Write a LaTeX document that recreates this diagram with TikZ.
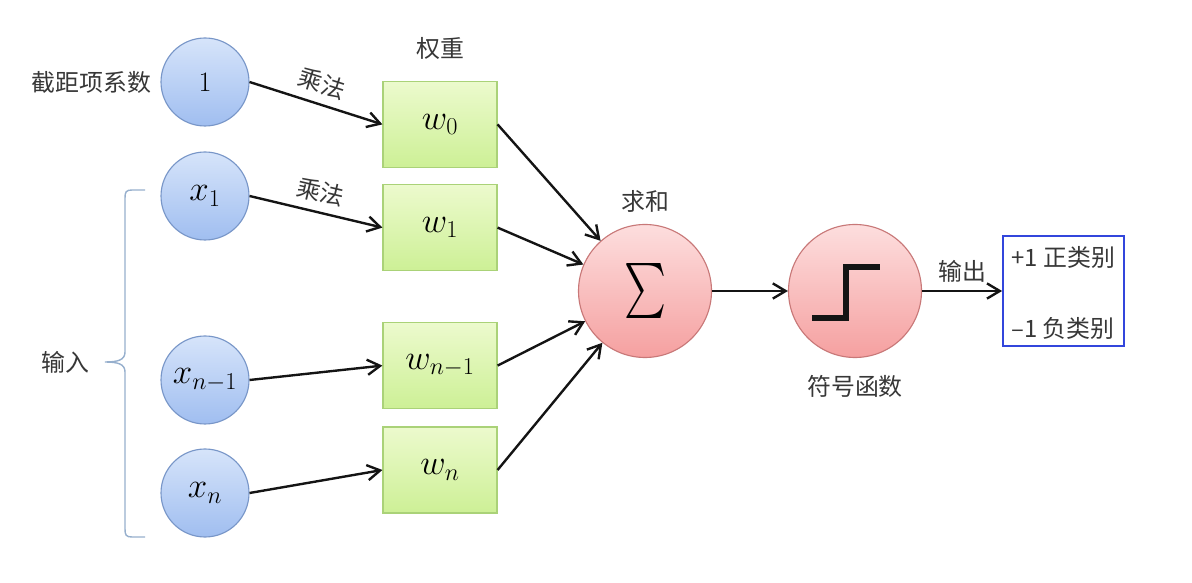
\documentclass[tikz,border=0pt]{standalone}
\usepackage{fontspec}
\usepackage{graphicx}
\usepackage{tikz}
\usetikzlibrary{arrows.meta, positioning}
\newfontfamily\cjk{Noto Sans CJK SC}
\definecolor{mydark}{RGB}{20,20,20}
\definecolor{mygraytext}{RGB}{55,55,55}
\definecolor{intop}{RGB}{214,228,250}
\definecolor{inbot}{RGB}{160,190,240}
\definecolor{inborder}{RGB}{120,150,200}
\definecolor{wtop}{RGB}{236,250,205}
\definecolor{wbot}{RGB}{205,240,150}
\definecolor{wborder}{RGB}{170,210,120}
\definecolor{utop}{RGB}{253,222,222}
\definecolor{ubot}{RGB}{245,160,160}
\definecolor{uborder}{RGB}{200,120,120}
\definecolor{bracecol}{RGB}{150,175,205}
\definecolor{boxblue}{RGB}{50,70,220}
\tikzset{
  inputnode/.style={circle, draw=inborder, top color=intop, bottom color=inbot,
    minimum size=2.2cm, inner sep=0pt, line width=0.8pt,
    font=\fontsize{25}{30}\selectfont},
  weightbox/.style={rectangle, draw=wborder, top color=wtop, bottom color=wbot,
    minimum width=2.85cm, minimum height=2.15cm, inner sep=0pt, line width=0.8pt,
    font=\fontsize{25}{30}\selectfont},
  unitnode/.style={circle, draw=uborder, top color=utop, bottom color=ubot,
    minimum size=3.325cm, inner sep=0pt, line width=0.8pt},
  classbox/.style={rectangle, draw=boxblue, line width=1.4pt,
    minimum width=3.025cm, minimum height=2.75cm},
  cnlabel/.style={font=\cjk\fontsize{17}{20}\selectfont, text=mygraytext, inner sep=2pt},
  arrow/.style={-{Straight Barb[length=3.2mm, width=3.8mm]}, line width=1.7pt, color=mydark},
  stepline/.style={line width=3.6pt, color=mydark, line join=miter}
}

\begin{document}
\begin{tikzpicture}
  \useasboundingbox (0,0) rectangle (29.8,14.55);

  % Input nodes
  \node[inputnode, font=\fontsize{20}{24}\selectfont] (one) at (5.125, 12.5) {1};
  \node[inputnode] (x1) at (5.125, 9.65) {$x_1$};
  \node[inputnode] (xn1) at (5.125, 5.05) {$x_{n-1}$};
  \node[inputnode] (xn) at (5.125, 2.225) {$x_n$};

  % Weights
  \node[weightbox] (w0) at (11.0, 11.44) {$w_0$};
  \node[weightbox] (w1) at (11.0, 8.86) {$w_1$};
  \node[weightbox] (wn1) at (11.0, 5.41) {$w_{n-1}$};
  \node[weightbox] (wn) at (11.0, 2.8) {$w_n$};

  % Sum and sign function
  \node[unitnode] (sum) at (16.125, 7.275) {\resizebox*{1.05cm}{1.375cm}{$\sum$}};
  \node[unitnode] (step) at (21.375, 7.275) {};
  \draw[stepline] ([shift={(-1.075,-0.675)}]step.center) -- ++(0.85,0) -- ++(0,1.275) -- ++(0.85,0);

  % Output classes
  \node[classbox] (classes) at (26.59, 7.275) {};
  \node[cnlabel, anchor=west, inner sep=0pt] (pos) at ([shift={(0.225,0.85)}]classes.west) {+1 正类别};
  \node[cnlabel, anchor=west, inner sep=0pt] (neg) at ([shift={(0.225,-0.925)}]classes.west) {–1 负类别};

  % Input to weight
  \draw[arrow] (one.east) -- node[cnlabel, midway, above=4pt, sloped] {乘法} (w0.west);
  \draw[arrow] (x1.east) -- node[cnlabel, midway, above=4pt, sloped] {乘法} (w1.west);
  \draw[arrow] (xn1.east) -- (wn1.west);
  \draw[arrow] (xn.east) -- (wn.west);

  % Weight to sum
  \draw[arrow] (w0.east) -- (sum);
  \draw[arrow] (w1.east) -- (sum);
  \draw[arrow] (wn1.east) -- (sum);
  \draw[arrow] (wn.east) -- (sum);

  % Sum to output
  \draw[arrow] (sum) -- (step);
  \draw[arrow] (step) -- node[cnlabel, midway, above=3pt] {输出} (classes);

  % Labels
  \node[cnlabel, left=0.15cm of one] (biaslabel) {截距项系数};
  \node[cnlabel, above=0.45cm of w0] (wlabel) {权重};
  \node[cnlabel, above=0.2cm of sum] (sumlabel) {求和};
  \node[cnlabel, below=0.35cm of step] (steplabel) {符号函数};

  % Input brace
  \coordinate (bracetop) at (3.625, 9.8);
  \coordinate (bracebot) at (3.625, 1.125);
  \draw[bracecol, line width=1pt] (bracetop) -- (3.3,9.8) .. controls (3.15,9.8) and (3.125,9.75) .. (3.125,9.6)
    -- (3.125,5.75) .. controls (3.125,5.55) and (2.95,5.5) .. (2.62,5.5)
    .. controls (2.95,5.5) and (3.125,5.45) .. (3.125,5.25)
    -- (3.125,1.325) .. controls (3.125,1.175) and (3.15,1.125) .. (3.3,1.125) -- (bracebot);
  \node[cnlabel] (inlabel) at (1.625, 5.5) {输入};
\end{tikzpicture}
\end{document}
